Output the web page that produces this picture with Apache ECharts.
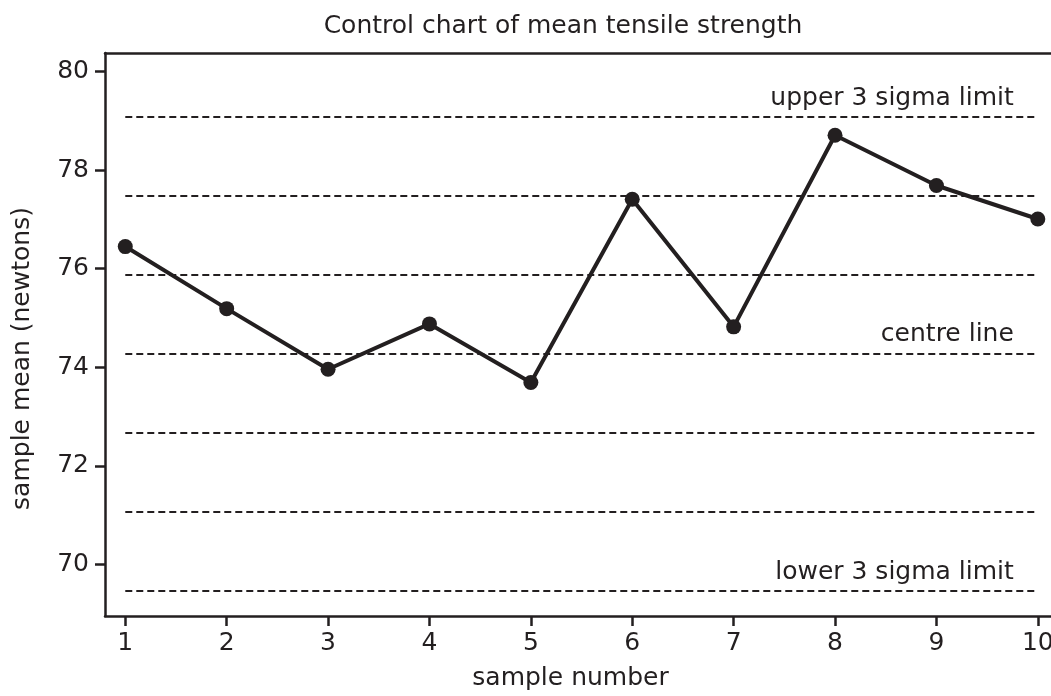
<!DOCTYPE html>
<html>
<head>
<meta charset="utf-8">
<script src="https://cdn.jsdelivr.net/npm/echarts@6/dist/echarts.min.js"></script>
<style>html,body{margin:0;padding:0;background:#fff}#c{width:1051px;height:696px}</style>
</head>
<body>
<div id="c"></div>
<script>
const sampleNumbers = [1, 2, 3, 4, 5, 6, 7, 8, 9, 10];
const sampleMeans = [76.45, 75.19, 73.96, 74.88, 73.69, 77.41, 74.82, 78.71, 77.69, 77.01];
const limitValues = [69.46, 71.07, 72.67, 74.28, 75.88, 77.49, 79.09];
const limitLabels = ['lower 3 sigma limit', '', '', 'centre line', '', '', 'upper 3 sigma limit'];
const yTicks = [70, 72, 74, 76, 78, 80];
const xTicks = [1, 2, 3, 4, 5, 6, 7, 8, 9, 10];
const titleText = 'Control chart of mean tensile strength';
const xName = 'sample number';
const yName = 'sample mean (newtons)';

const INK = '#231f20';
const FONT = 'DejaVu Sans';

const chart = echarts.init(document.getElementById('c'), null, {renderer: 'canvas'});

const markData = limitValues.map((v, i) => [
  {coord: [sampleNumbers[0], v], label: {formatter: limitLabels[i]}},
  {coord: [sampleNumbers[sampleNumbers.length - 1], v]}
]);

chart.setOption({
  animation: false,
  backgroundColor: '#fff',
  textStyle: {fontFamily: FONT, color: INK},
  title: {
    text: titleText,
    left: 558, top: 9, textAlign: 'center',
    textStyle: {fontFamily: FONT, fontSize: 25, fontWeight: 'normal', color: INK}
  },
  grid: {left: 105, right: 0, top: 53, bottom: 80, containLabel: false, outerBoundsMode: 'none'},
  xAxis: [{
    type: 'value', min: 0.8, max: 10.13, position: 'bottom',
    name: xName, nameLocation: 'middle', nameGap: 50,
    nameTextStyle: {fontFamily: FONT, fontSize: 25, color: INK, padding: [0, 0, 0, -15]},
    axisLine: {show: true, lineStyle: {color: INK, width: 2.5}},
    axisTick: {show: true, length: 10, lineStyle: {color: INK, width: 2.5}, customValues: xTicks},
    axisLabel: {show: true, fontFamily: FONT, fontSize: 25, color: INK, margin: 15, customValues: xTicks},
    splitLine: {show: false}
  }, {
    type: 'value', min: 0.8, max: 10.13, position: 'top',
    axisLine: {show: true, lineStyle: {color: INK, width: 2.5}},
    axisTick: {show: false}, axisLabel: {show: false}, splitLine: {show: false}
  }],
  yAxis: {
    type: 'value', min: 68.95, max: 80.38,
    name: yName, nameLocation: 'middle', nameGap: 70, nameRotate: 90,
    nameTextStyle: {fontFamily: FONT, fontSize: 25, color: INK, padding: [0, 48, 0, 0]},
    axisLine: {show: true, lineStyle: {color: INK, width: 2.5}},
    axisTick: {show: true, length: 10, lineStyle: {color: INK, width: 2.5}, customValues: yTicks},
    axisLabel: {show: true, fontFamily: FONT, fontSize: 25, color: INK, margin: 16, customValues: yTicks},
    splitLine: {show: false}
  },
  series: [{
    type: 'line',
    data: sampleNumbers.map((x, i) => [x, sampleMeans[i]]),
    symbol: 'circle', symbolSize: 15,
    lineStyle: {color: INK, width: 4},
    itemStyle: {color: INK},
    z: 5,
    markLine: {
      silent: true, symbol: ['none', 'none'],
      lineStyle: {color: INK, width: 2.2, type: [7, 4]},
      label: {
        show: true, position: 'insideEndTop', distance: [24, 6],
        fontFamily: FONT, fontSize: 25, color: INK
      },
      data: markData
    }
  }]
});
</script>
</body>
</html>
